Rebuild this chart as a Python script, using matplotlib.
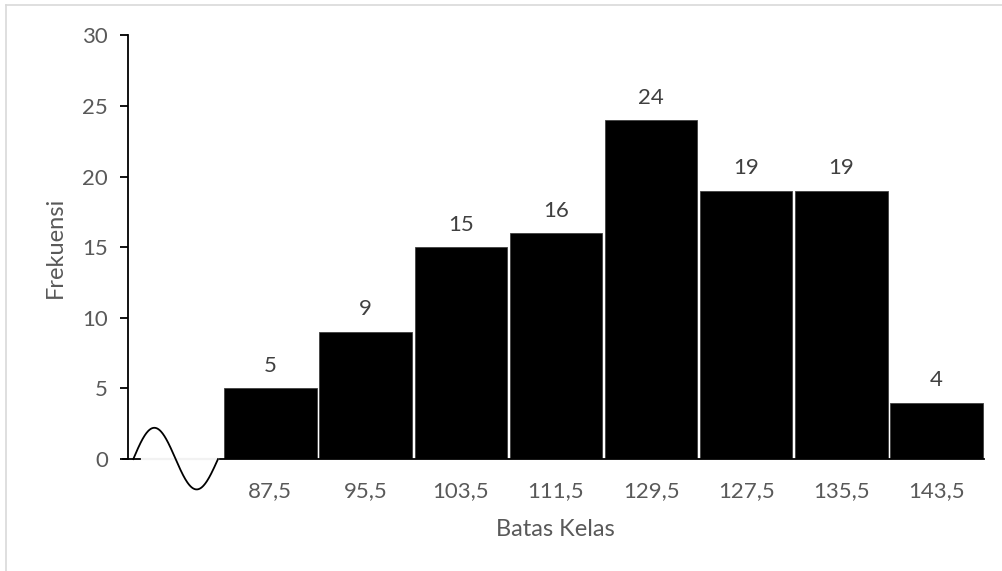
import numpy as np
import matplotlib.pyplot as plt
from matplotlib.lines import Line2D

# class boundaries (first slot left empty for the axis break) and frequencies
labels = ["", "87,5", "95,5", "103,5", "111,5", "129,5", "127,5", "135,5", "143,5"]
freq = [None, 5, 9, 15, 16, 24, 19, 19, 4]

plt.rcParams["font.family"] = ["Lato", "DejaVu Sans"]
TEXT = "#595959"

fig = plt.figure(figsize=(10.03, 5.71), dpi=100)
ax = fig.add_axes([0.1272, 0.196, 0.854, 0.742])

x = np.arange(len(labels))
bx = [i for i, f in zip(x, freq) if f is not None]
by = [f for f in freq if f is not None]
bars = ax.bar(bx, by, width=0.97, color="black", edgecolor="#404040", linewidth=0.6)
ax.bar_label(bars, padding=9, fontsize=16, color="#404040")

ax.set_xlim(-0.5, len(labels) - 0.5)
ax.set_ylim(0, 30)
ax.set_yticks(range(0, 31, 5))
ax.set_xticks(x)
ax.set_xticklabels(labels)
ax.tick_params(axis="y", direction="out", length=6, width=1.3, colors="black",
               labelcolor=TEXT, labelsize=16, pad=8)
ax.tick_params(axis="x", length=0, labelcolor=TEXT, labelsize=16, pad=16)

for s in ("top", "right"):
    ax.spines[s].set_visible(False)
ax.spines["left"].set_linewidth(1.3)
ax.spines["bottom"].set_linewidth(1.3)
ax.spines["bottom"].set_bounds(-0.55, len(labels) - 0.5)
ax.spines["left"].set_zorder(5)

# axis break squiggle in the empty first slot
t = np.linspace(0, 1, 200)
sx = -0.44 + 0.89 * t
sy = 2.25 * np.sin(2 * np.pi * t) * (1 - 0.06 * t)
ax.plot([-0.35, 0.45], [0, 0], color="#f2f2f2", lw=1.6, zorder=4, clip_on=False)
ax.plot(sx, sy, color="black", lw=1.3, zorder=6, clip_on=False)

ax.set_ylabel("Frekuensi", fontsize=17, color=TEXT, labelpad=12)
ax.set_xlabel("Batas Kelas", fontsize=17, color=TEXT, labelpad=13)

# chart-area border (top and left edges)
fig.add_artist(Line2D([0.006, 1.0], [0.991, 0.991], color="#d9d9d9", lw=1.2,
                      transform=fig.transFigure))
fig.add_artist(Line2D([0.006, 0.006], [0.0, 0.991], color="#d9d9d9", lw=1.2,
                      transform=fig.transFigure))

fig.savefig("out.png", dpi=100)
